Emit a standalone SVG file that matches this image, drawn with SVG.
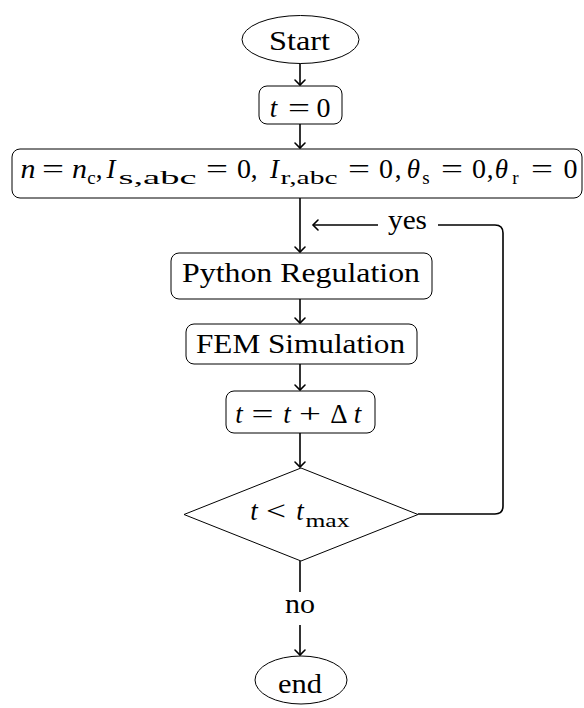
<svg xmlns="http://www.w3.org/2000/svg" width="584" height="708" viewBox="0 0 584 708">
<defs>
<marker id="ah" markerUnits="userSpaceOnUse" markerWidth="12" markerHeight="14" refX="0" refY="0" viewBox="-6 -7 12 14" orient="auto" overflow="visible">
<path d="M-5,-5 Q-1.5,-1.5 0,0 Q-1.5,1.5 -5,5" fill="none" stroke="#000" stroke-width="1.6" stroke-linecap="round"/>
</marker>
</defs>
<rect width="584" height="708" fill="#fff"/>
<g id="connectors" fill="none" stroke="#000" stroke-width="1.6">
<line x1="300" y1="63" x2="300" y2="85" marker-end="url(#ah)"/>
<line x1="300" y1="124" x2="300" y2="148" marker-end="url(#ah)"/>
<line x1="300" y1="198" x2="300" y2="252" marker-end="url(#ah)"/>
<line x1="300" y1="299" x2="300" y2="323" marker-end="url(#ah)"/>
<line x1="300" y1="364" x2="300" y2="390" marker-end="url(#ah)"/>
<line x1="300" y1="433" x2="300" y2="467" marker-end="url(#ah)"/>
<line x1="300" y1="561" x2="300" y2="592"/>
<line x1="300" y1="625" x2="300" y2="655" marker-end="url(#ah)"/>
<path d="M418,514 H495 Q503,514 503,506 V233 Q503,225 495,225 H438"/>
<line x1="378" y1="225" x2="313" y2="225" marker-end="url(#ah)"/>
</g>
<text font-family="Liberation Serif" font-size="27" text-anchor="middle" x="407.5" y="229" textLength="39" lengthAdjust="spacingAndGlyphs">yes</text>
<text font-family="Liberation Serif" font-size="27" text-anchor="middle" x="300" y="613" textLength="30" lengthAdjust="spacingAndGlyphs">no</text>
<g id="start">
<ellipse fill="#fff" stroke="#000" cx="300.5" cy="39.5" rx="58.5" ry="24"/>
<text font-family="Liberation Serif" font-size="27" text-anchor="middle" x="299.5" y="50" textLength="61" lengthAdjust="spacingAndGlyphs">Start</text>
</g>
<g id="t0">
<rect fill="#fff" stroke="#000" x="259" y="86" width="83" height="38" rx="8"/>
<text font-family="Liberation Serif" font-size="27" font-style="italic" text-anchor="middle" x="273.5" y="117">t</text>
<text font-family="Liberation Serif" font-size="27" text-anchor="middle" x="299" y="117" textLength="22" lengthAdjust="spacingAndGlyphs">=</text>
<text font-family="Liberation Serif" font-size="27" text-anchor="middle" x="323.5" y="117" textLength="14" lengthAdjust="spacingAndGlyphs">0</text>
</g>
<g id="init">
<rect fill="#fff" stroke="#000" x="12" y="149" width="570" height="49" rx="8"/>
<text font-family="Liberation Serif" font-size="27" font-style="italic" text-anchor="middle" x="28" y="178" textLength="15" lengthAdjust="spacingAndGlyphs">n</text>
<text font-family="Liberation Serif" font-size="27" text-anchor="middle" x="53" y="178" textLength="22" lengthAdjust="spacingAndGlyphs">=</text>
<text font-family="Liberation Serif" font-size="27" font-style="italic" text-anchor="middle" x="79.5" y="178" textLength="15" lengthAdjust="spacingAndGlyphs">n</text>
<text font-family="Liberation Serif" font-size="19" text-anchor="middle" x="91.5" y="184">c</text>
<text font-family="Liberation Serif" font-size="27" text-anchor="middle" x="99" y="178">,</text>
<text font-family="Liberation Serif" font-size="27" font-style="italic" text-anchor="middle" x="111" y="178">I</text>
<text font-family="Liberation Serif" font-size="19" text-anchor="middle" x="157.5" y="184" textLength="78" lengthAdjust="spacingAndGlyphs">s,abc</text>
<text font-family="Liberation Serif" font-size="27" text-anchor="middle" x="217" y="178" textLength="22" lengthAdjust="spacingAndGlyphs">=</text>
<text font-family="Liberation Serif" font-size="27" text-anchor="middle" x="244" y="178" textLength="14" lengthAdjust="spacingAndGlyphs">0</text>
<text font-family="Liberation Serif" font-size="27" text-anchor="middle" x="254" y="178">,</text>
<text font-family="Liberation Serif" font-size="27" font-style="italic" text-anchor="middle" x="274.5" y="178">I</text>
<text font-family="Liberation Serif" font-size="19" text-anchor="middle" x="309" y="184" textLength="57" lengthAdjust="spacingAndGlyphs">r,abc</text>
<text font-family="Liberation Serif" font-size="27" text-anchor="middle" x="359" y="178" textLength="22" lengthAdjust="spacingAndGlyphs">=</text>
<text font-family="Liberation Serif" font-size="27" text-anchor="middle" x="386" y="178" textLength="14" lengthAdjust="spacingAndGlyphs">0</text>
<text font-family="Liberation Serif" font-size="27" text-anchor="middle" x="398" y="178">,</text>
<text font-family="Liberation Serif" font-size="27" font-style="italic" text-anchor="middle" x="413.5" y="178">θ</text>
<text font-family="Liberation Serif" font-size="19" text-anchor="middle" x="426" y="184">s</text>
<text font-family="Liberation Serif" font-size="27" text-anchor="middle" x="452" y="178" textLength="22" lengthAdjust="spacingAndGlyphs">=</text>
<text font-family="Liberation Serif" font-size="27" text-anchor="middle" x="479" y="178" textLength="14" lengthAdjust="spacingAndGlyphs">0</text>
<text font-family="Liberation Serif" font-size="27" text-anchor="middle" x="490" y="178">,</text>
<text font-family="Liberation Serif" font-size="27" font-style="italic" text-anchor="middle" x="501.5" y="178">θ</text>
<text font-family="Liberation Serif" font-size="19" text-anchor="middle" x="515.5" y="184">r</text>
<text font-family="Liberation Serif" font-size="27" text-anchor="middle" x="542" y="178" textLength="22" lengthAdjust="spacingAndGlyphs">=</text>
<text font-family="Liberation Serif" font-size="27" text-anchor="middle" x="570.5" y="178" textLength="14" lengthAdjust="spacingAndGlyphs">0</text>
</g>
<g id="python">
<rect fill="#fff" stroke="#000" x="171" y="253" width="261" height="46" rx="8"/>
<text font-family="Liberation Serif" font-size="27" text-anchor="middle" x="301" y="282" textLength="238" lengthAdjust="spacingAndGlyphs">Python Regulation</text>
</g>
<g id="fem">
<rect fill="#fff" stroke="#000" x="186" y="324" width="231" height="40" rx="8"/>
<text font-family="Liberation Serif" font-size="27" text-anchor="middle" x="300.5" y="353" textLength="209" lengthAdjust="spacingAndGlyphs">FEM Simulation</text>
</g>
<g id="tstep">
<rect fill="#fff" stroke="#000" x="226" y="391" width="149" height="42" rx="8"/>
<text font-family="Liberation Serif" font-size="27" font-style="italic" text-anchor="middle" x="239" y="423">t</text>
<text font-family="Liberation Serif" font-size="27" text-anchor="middle" x="262.5" y="423" textLength="22" lengthAdjust="spacingAndGlyphs">=</text>
<text font-family="Liberation Serif" font-size="27" font-style="italic" text-anchor="middle" x="287" y="423">t</text>
<text font-family="Liberation Serif" font-size="27" text-anchor="middle" x="310" y="423" textLength="22" lengthAdjust="spacingAndGlyphs">+</text>
<text font-family="Liberation Serif" font-size="27" text-anchor="middle" x="339" y="423">Δ</text>
<text font-family="Liberation Serif" font-size="27" font-style="italic" text-anchor="middle" x="357.5" y="423">t</text>
</g>
<g id="decision">
<polygon fill="#fff" stroke="#000" points="301,468 418,514.5 301,561 184,514.5"/>
<text font-family="Liberation Serif" font-size="27" font-style="italic" text-anchor="middle" x="254" y="520">t</text>
<text font-family="Liberation Serif" font-size="27" text-anchor="middle" x="276" y="520" textLength="20" lengthAdjust="spacingAndGlyphs">&lt;</text>
<text font-family="Liberation Serif" font-size="27" font-style="italic" text-anchor="middle" x="300" y="520">t</text>
<text font-family="Liberation Serif" font-size="19" text-anchor="middle" x="327.5" y="527" textLength="44" lengthAdjust="spacingAndGlyphs">max</text>
</g>
<g id="end">
<ellipse fill="#fff" stroke="#000" cx="301" cy="680" rx="46" ry="24"/>
<text font-family="Liberation Serif" font-size="27" text-anchor="middle" x="300" y="693" textLength="44" lengthAdjust="spacingAndGlyphs">end</text>
</g>
</svg>
